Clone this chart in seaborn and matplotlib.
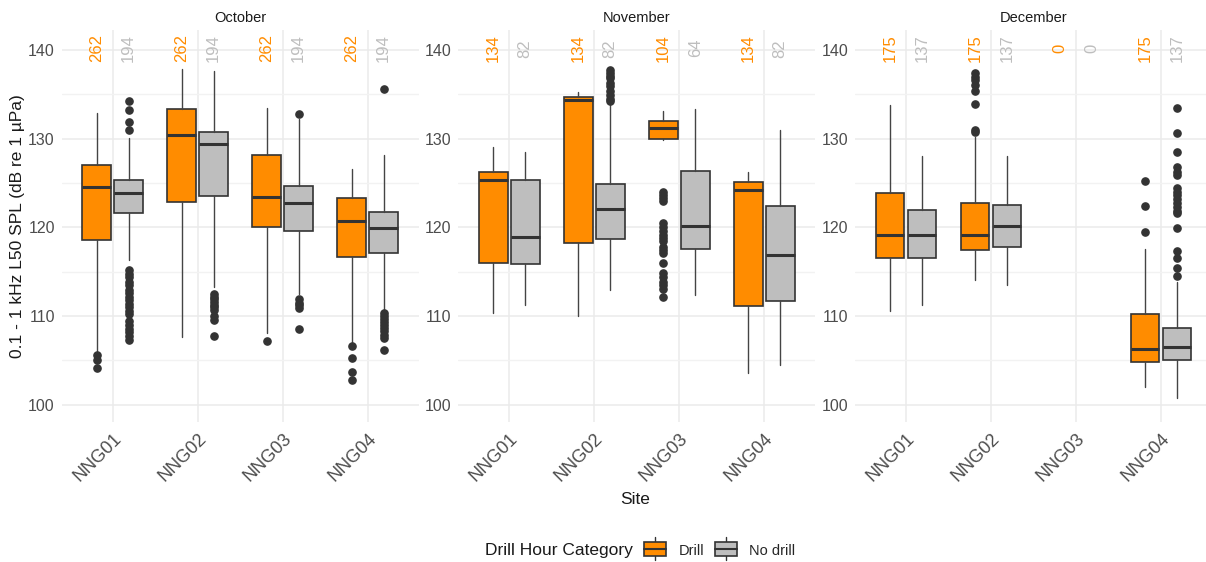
import matplotlib
matplotlib.use("Agg")
import matplotlib.pyplot as plt
import seaborn as sns
from matplotlib.legend_handler import HandlerBase
from matplotlib.patches import Rectangle
from matplotlib.lines import Line2D

sns.set_theme(style="whitegrid")
plt.rcParams['font.family'] = ['Liberation Sans', 'DejaVu Sans']

# ---------------- data ----------------
sites = ["NNG01", "NNG02", "NNG03", "NNG04"]
months = ["October", "November", "December"]
groups = ["Drill", "No drill"]

# box stats per site: (lower whisker, Q1, median, Q3, upper whisker)
oct_drill = [(106.1, 118.6, 124.6, 127.0, 132.9), (107.6, 122.9, 130.4, 133.3, 137.8),
             (108.1, 120.0, 123.4, 128.2, 133.5), (107.0, 116.7, 120.7, 123.3, 126.6)]
oct_nodrill = [(116.3, 121.6, 123.9, 125.3, 130.1), (113.3, 123.5, 129.4, 130.8, 137.6),
               (112.5, 119.6, 122.7, 124.7, 132.2), (110.5, 117.1, 119.9, 121.7, 128.2)]
nov_drill = [(110.3, 116.0, 125.3, 126.2, 129.1), (110.0, 118.2, 134.4, 134.7, 135.3),
             (129.85, 130.0, 131.25, 132.0, 133.1), (103.6, 111.1, 124.2, 125.1, 126.3)]
nov_nodrill = [(111.3, 115.9, 118.95, 125.35, 128.5), (112.9, 118.7, 122.1, 124.9, 134.0),
               (112.35, 117.6, 120.2, 126.4, 133.4), (104.5, 111.7, 116.9, 122.4, 131.0)]
dec_drill = [(110.6, 116.5, 119.2, 123.9, 133.8), (114.1, 117.5, 119.2, 122.8, 130.2),
             None, (102.0, 104.85, 106.35, 110.2, 117.6)]
dec_nodrill = [(111.3, 116.5, 119.2, 122.0, 128.1), (113.5, 117.8, 120.2, 122.5, 128.1),
               None, (100.75, 105.1, 106.5, 108.7, 113.8)]

# outliers per site
oct_drill_out = [[105.6, 105.1, 104.1], [], [107.25], [106.6, 105.25, 103.75, 102.8]]
oct_nodrill_out = [[134.2, 133.2, 131.9, 131.0, 115.2, 114.8, 114.4, 113.9, 113.5, 113.0, 112.6,
                    112.2, 111.8, 111.4, 111.0, 110.6, 110.2, 109.5, 109.0, 108.6, 108.2, 107.8, 107.3],
                   [112.5, 112.2, 111.9, 111.6, 111.3, 111.0, 110.7, 110.0, 109.6, 107.8],
                   [132.8, 111.9, 111.5, 111.2, 110.9, 108.6],
                   [135.55, 110.3, 110.0, 109.7, 109.3, 109.0, 108.7, 108.3, 107.9, 107.5, 106.2]]
nov_drill_out = [[], [], [124.0, 123.6, 123.3, 123.0, 120.5, 120.1, 119.6, 119.2, 118.8, 118.5,
                          117.8, 117.4, 117.1, 116.0, 114.9, 114.4, 113.9, 113.5, 113.1, 112.1], []]
nov_nodrill_out = [[], [137.7, 137.4, 137.1, 136.8, 136.3, 135.9, 135.4, 134.9, 134.5, 134.2], [], []]
dec_drill_out = [[], [137.4, 137.0, 136.6, 136.1, 135.4, 133.9, 131.0, 130.7], [],
                 [125.2, 122.4, 119.45]]
dec_nodrill_out = [[], [], [],
                   [133.5, 130.6, 128.5, 126.85, 126.3, 125.9, 124.4, 124.0, 123.6, 123.2, 122.8,
                    122.3, 121.9, 121.6, 119.9, 117.3, 116.5, 115.4, 114.5]]

# sample counts per site
oct_n_drill = [262, 262, 262, 262]
oct_n_nodrill = [194, 194, 194, 194]
nov_n_drill = [134, 134, 104, 134]
nov_n_nodrill = [82, 82, 64, 82]
dec_n_drill = [175, 175, 0, 175]
dec_n_nodrill = [137, 137, 0, 137]

stats_by_month = {
    "October": {"Drill": (oct_drill, oct_drill_out, oct_n_drill),
                "No drill": (oct_nodrill, oct_nodrill_out, oct_n_nodrill)},
    "November": {"Drill": (nov_drill, nov_drill_out, nov_n_drill),
                 "No drill": (nov_nodrill, nov_nodrill_out, nov_n_nodrill)},
    "December": {"Drill": (dec_drill, dec_drill_out, dec_n_drill),
                 "No drill": (dec_nodrill, dec_nodrill_out, dec_n_nodrill)},
}

fill_colors = {"Drill": "#FF8C00", "No drill": "#BEBEBE"}
label_colors = {"Drill": "#FF8C00", "No drill": "#BEBEBE"}
edge = "#333333"

# ---------------- figure ----------------
W, H = 1206, 562
fig = plt.figure(figsize=(W / 100, H / 100), dpi=100)
fig.patch.set_facecolor("white")

panel_left = [61.7, 458.3, 855.0]
pw = 357.0
ptop, pbot = 30.0, 421.7
dodge = 0.1875
bw = 0.3375

for mi, month in enumerate(months):
    ax = fig.add_axes([panel_left[mi] / W, 1 - pbot / H, pw / W, (pbot - ptop) / H])
    ax.set_facecolor("white")
    ax.set_xlim(-0.6, 3.6)
    ax.set_ylim(98.1, 142.25)
    ax.set_yticks([100, 110, 120, 130, 140])
    ax.set_yticks([105, 115, 125, 135], minor=True)
    ax.set_xticks(range(len(sites)))
    ax.set_xticklabels(sites, rotation=45, ha="right", va="top", rotation_mode="anchor",
                       fontsize=13, color="#4D4D4D")
    ax.grid(True, which="major", color="#EBEBEB", linewidth=1.1)
    ax.grid(True, which="minor", axis="y", color="#F2F2F2", linewidth=1.0)
    ax.set_axisbelow(True)
    for sp in ax.spines.values():
        sp.set_visible(False)
    ax.tick_params(axis="both", which="both", length=0)
    ax.tick_params(axis="y", labelsize=11.5, labelcolor="#4D4D4D", pad=5)
    ax.tick_params(axis="x", pad=6)

    for gi, g in enumerate(groups):
        boxes, outs, ns = stats_by_month[month][g]
        off = (gi - 0.5) * 2 * dodge
        bstats, pos = [], []
        for si in range(len(sites)):
            if boxes[si] is None:
                continue
            lo, q1, med, q3, hi = boxes[si]
            bstats.append(dict(whislo=lo, q1=q1, med=med, q3=q3, whishi=hi,
                               fliers=outs[si], label=sites[si]))
            pos.append(si + off)
        ax.bxp(bstats, positions=pos, widths=bw, patch_artist=True, showcaps=False,
               manage_ticks=False,
               boxprops=dict(facecolor=fill_colors[g], edgecolor=edge, linewidth=1.2),
               medianprops=dict(color=edge, linewidth=2.2, solid_capstyle="butt"),
               whiskerprops=dict(color="#444444", linewidth=1.0),
               flierprops=dict(marker="o", markerfacecolor=edge, markeredgecolor=edge,
                               markersize=5.2, linestyle="none"))
        for si in range(len(sites)):
            ax.text(si + off, 140.2, str(ns[si]), rotation=90, ha="center", va="center",
                    color=label_colors[g], fontsize=12)

    ax.set_title(month, fontsize=10.5, color="#1A1A1A", pad=6)
    if mi == 0:
        ax.set_ylabel("0.1 - 1 kHz L50 SPL (dB re 1 µPa)", fontsize=12.5, color="#1A1A1A",
                      labelpad=2)

fig.text(635 / W, 1 - 500 / H, "Site", ha="center", va="center", fontsize=12.5, color="#1A1A1A")


# ---------------- legend ----------------
class BoxKeyHandler(HandlerBase):
    def create_artists(self, legend, orig_handle, xdescent, ydescent, width, height,
                       fontsize, trans):
        fc = orig_handle.get_facecolor()
        bx0, bx1 = 0.0, width
        by0, by1 = -0.05 * height, 1.05 * height
        rect = Rectangle((bx0, by0), bx1 - bx0, by1 - by0, facecolor=fc, edgecolor=edge,
                         linewidth=1.2, transform=trans)
        mid = Line2D([bx0, bx1], [height / 2, height / 2], color=edge, linewidth=1.5,
                     transform=trans)
        cx = width / 2
        wt = Line2D([cx, cx], [by1, by1 + 0.35 * height], color=edge, linewidth=1.0,
                    transform=trans)
        wb = Line2D([cx, cx], [by0 - 0.35 * height, by0], color=edge, linewidth=1.0,
                    transform=trans)
        return [wt, wb, rect, mid]


handles = [Rectangle((0, 0), 1, 1, facecolor=fill_colors[g]) for g in groups]
fig.text(485 / W, 1 - 551 / H, "Drill Hour Category", ha="left", va="center",
         fontsize=12.5, color="#1A1A1A")
fig.legend(handles, groups, handler_map={Rectangle: BoxKeyHandler()},
           loc="center left", bbox_to_anchor=(644 / W, 1 - 551 / H), frameon=False, ncol=2,
           fontsize=10.5, handlelength=1.5, handleheight=1.0, handletextpad=0.85,
           columnspacing=0.75, borderaxespad=0, borderpad=0)

fig.savefig("out.png", dpi=100, facecolor="white")
